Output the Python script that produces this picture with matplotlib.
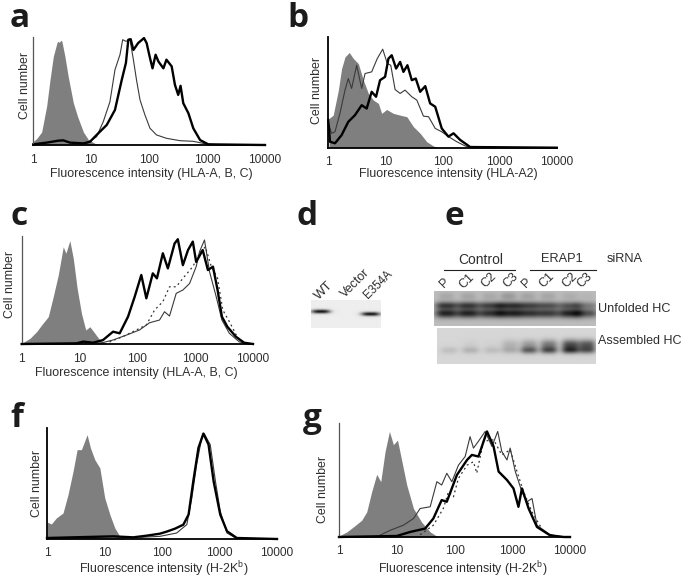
import numpy as np
import matplotlib
matplotlib.use("Agg")
import matplotlib.pyplot as plt
from matplotlib.ticker import NullLocator

plt.rcParams['font.family'] = ['Liberation Sans', 'DejaVu Sans']
plt.rcParams['mathtext.default'] = 'regular'

W, H = 685, 579
TICKS = [1, 10, 100, 1000, 10000]
TICK_LABELS = ['1', '10', '100', '1000', '10000']

# ---- panel a
a_fill_x = [1, 1.16, 1.41, 1.72, 1.96, 2.24, 2.6, 2.72, 2.85, 3.0, 3.15, 3.55, 4.06, 4.96, 5.9, 7.4, 9, 11.7, 14]
a_fill_y = [3, 6, 12, 36, 60, 82, 95, 96, 95, 97, 96, 82, 63, 39, 26, 12, 5, 1.5, 0.5]
a_thin_x = [8.4, 12.5, 16.3, 21.2, 25.9, 31.6, 35.2, 40, 47, 53.8, 61, 70, 85, 104, 135, 200, 342, 580, 986, 1460]
a_thin_y = [1.5, 7.7, 21.7, 40, 69.7, 83.6, 97.5, 96, 97.5, 79, 60, 41.8, 27.9, 15.5, 9.3, 6.2, 4, 3.4, 0.9, 0.3]
a_thick_x = [1.01, 1.72, 2.73, 3.33, 4.34, 7.4, 9.6, 12.5, 18.7, 25.9, 33.8, 40, 44, 48.3, 53.8, 65, 82, 91, 104, 115, 130, 145, 177, 200, 246, 280, 319, 350, 390, 478, 580, 760, 1050, 10000]
a_thick_y = [0.6, 2.2, 4, 4.3, 2.2, 1.5, 3, 9.3, 18.6, 32.5, 60, 76, 97.5, 98, 88, 94.4, 99, 94.4, 80.5, 71, 83.6, 77.4, 71, 79, 72.8, 55.7, 46.4, 54.8, 38.7, 29.4, 15.5, 4.6, 0.6, 0]

# ---- panel b
b_fill_x = [1.03, 1.22, 1.5, 1.71, 1.96, 2.33, 2.75, 3.36, 4.11, 5.03, 6.16, 7.54, 8.6, 10.5, 13.8, 18.1, 23.7, 30.9, 40.6, 53, 69.6, 91]
b_fill_y = [26.4, 29.4, 52, 71.5, 82, 86, 80.5, 76, 61, 49, 43, 40, 31, 34.5, 31, 29.4, 28, 19, 13, 5.4, 1.5, 0]
b_thin_x = [1, 1.14, 1.31, 1.6, 1.96, 2.24, 2.56, 3.14, 3.84, 4.4, 5.75, 7.2, 8.98, 10.8, 12.4, 14.8, 18.1, 22.1, 29, 35.5, 46.4, 56.9, 74.6, 97, 127, 178, 251, 328, 10000]
b_thin_y = [22, 13, 14.4, 31, 52, 62.5, 53.5, 74.5, 53.5, 67, 68.5, 80.5, 89, 76, 74.5, 52.5, 49, 52, 46, 43, 28.5, 28, 17.4, 14.4, 10, 5.4, 1.5, 0, 0]
b_thick_x = [1, 1.07, 1.31, 1.71, 2.24, 2.93, 3.84, 4.7, 5.75, 6.86, 8.06, 9.87, 11.3, 12.9, 15.4, 18.1, 20.7, 24.3, 29, 34, 40.6, 49.9, 60.7, 74.6, 97, 127, 156, 204, 306, 10000]
b_thick_y = [25, 5.4, 4, 11.4, 23.4, 29.4, 38.4, 35.4, 50.5, 46, 61, 64, 80.5, 83.5, 71.5, 77.5, 68.5, 74.5, 61, 62.5, 50.5, 55.6, 40, 37, 17.4, 10, 13, 7, 0.6, 0]

# ---- panel c
c_fill_x = [1, 1.39, 1.81, 2.21, 2.88, 3.51, 4.29, 5.23, 5.81, 6.8, 7.8, 9.1, 10.8, 12.8, 15.1, 18.4, 22.4, 29]
c_fill_y = [0.6, 5.2, 11.4, 17.6, 25.3, 43.8, 63.9, 90, 84, 95.7, 79.3, 51.5, 28.4, 13, 16, 9.9, 3.7, 0.6]
c_thick_x = [1, 8.9, 11.6, 17.2, 25.5, 38, 49.5, 69, 90, 117, 143, 185, 218, 276, 337, 440, 501, 613, 752, 910, 1040, 1350, 1660, 2030, 2440, 2900, 3600, 5050, 7000, 10000]
c_thick_y = [0, 0.6, 2.2, 1.2, 3.7, 11.4, 9.9, 25.3, 43.8, 63.9, 42.3, 65.4, 60.8, 84, 70, 93, 97, 73, 87, 94.8, 76, 87, 68.5, 71.6, 50, 25.3, 16, 6.8, 1.2, 0]
c_thin_x = [22.4, 38, 65, 109, 163, 242, 295, 360, 470, 613, 800, 1040, 1190, 1450, 1770, 2310, 2900, 3900, 5800, 8800]
c_thin_y = [0.6, 3.7, 8.3, 13, 19.7, 22.2, 29.9, 25.9, 46.9, 50, 56, 71.6, 85.5, 96.3, 67, 43.8, 22.2, 9.9, 1.9, 0]
c_dot_x = [33, 56, 96, 143, 199, 276, 360, 470, 650, 910, 1190, 1500, 1870, 2440, 3000, 3900, 5500, 7600]
c_dot_y = [1.9, 6.8, 13, 17.6, 31.5, 39.2, 53, 53, 62.4, 71.6, 84, 90, 73, 60.8, 31.5, 20.7, 5.2, 0.6]

# ---- panel f
f_fill_x = [1, 1.19, 1.45, 1.9, 2.32, 2.84, 3.34, 3.97, 4.98, 5.7, 6.78, 8.3, 10.1, 12.4, 15.1, 18.5, 22.6]
f_fill_y = [15.3, 13.5, 18.9, 23.4, 40, 61, 80.5, 80.5, 94, 82, 71.5, 64, 37, 22, 10, 2.4, 0]
f_thick_x = [1, 2.84, 14.2, 31.6, 54, 92, 120, 168, 235, 290, 350, 430, 525, 645, 790, 1030, 1350, 2000, 10000]
f_thick_y = [0.9, 1.5, 2.4, 1.5, 3, 4.8, 6.6, 9.3, 12.9, 22, 52, 82, 95, 85, 52, 22, 7, 0.9, 0]
f_thin_x = [41, 92, 180, 270, 330, 400, 490, 540, 690, 850, 1030, 1350, 2000]
f_thin_y = [1.5, 2.4, 5.4, 13, 37, 67, 91, 95, 85, 52, 25, 5.4, 0.3]

# ---- panel g
g_fill_x = [1, 1.36, 1.77, 2.47, 3.02, 3.68, 4.5, 5.28, 6.28, 7.47, 8.75, 10.3, 12.2, 14.9, 19.5, 27, 38, 52]
g_fill_y = [0.9, 4.4, 8.8, 14.7, 22, 39.7, 55, 48.5, 75, 92.6, 81, 85, 67, 45.6, 25, 13, 4.4, 0]
g_thin_x = [5.1, 7.7, 13, 19.5, 25.4, 37.9, 49.5, 60, 73.5, 90, 117, 153, 186, 213, 260, 340, 445, 560, 660, 810, 920, 1130, 1470, 1800, 2200, 2680, 4500, 7800]
g_thin_y = [1.5, 5.9, 10.3, 16.2, 25, 26.5, 48.5, 45.6, 55.9, 48.5, 63, 70.6, 88, 78, 84, 92.6, 79.4, 92.6, 75, 67.6, 78, 57.4, 39.7, 30.9, 33.8, 10.3, 2, 0]
g_thick_x = [1, 10, 17, 31, 43, 60, 73.5, 110, 165, 200, 260, 365, 475, 580, 810, 1050, 1280, 1470, 1920, 2680, 4500, 7800, 10000]
g_thick_y = [0, 0.9, 4.4, 7.4, 16.2, 32.4, 30.9, 54.4, 67.6, 72, 70.6, 92.6, 79.4, 57.4, 50, 42.6, 26.5, 42.6, 25, 8.8, 1.5, 0, 0]
g_dot_x = [25.4, 43, 64, 78.7, 96, 117, 165, 213, 243, 318, 475, 660, 920, 1210, 1570, 2200, 3500, 6000]
g_dot_y = [2, 10.3, 25, 39.7, 35.3, 51.5, 63, 66, 56, 84, 85.3, 72, 76.5, 57.4, 39.7, 22, 4.4, 0]

# ---- gels: per-lane band strength
e_lanes = ['P', 'C1', 'C2', 'C3', 'P', 'C1', 'C2', 'C3']
e_lane_pos = [0.075, 0.21, 0.345, 0.46, 0.58, 0.705, 0.84, 0.945]
e_top_upper = [0.50, 0.50, 0.46, 0.52, 0.46, 0.40, 0.38, 0.24]
e_top_lower = [0.60, 0.60, 0.54, 0.60, 0.54, 0.50, 0.60, 0.42]
e_top_smear = [0.08, 0.09, 0.08, 0.14, 0.10, 0.09, 0.06, 0.03]
e_bot_upper = [0.00, 0.03, 0.02, 0.13, 0.22, 0.35, 0.52, 0.48]
e_bot_lower = [0.09, 0.13, 0.09, 0.14, 0.42, 0.46, 0.52, 0.40]
d_lane_pos = [0.14, 0.855]
d_lane_y = [0.41, 0.50]
d_bands = [0.85, 0.85]


def px_rect(x0, x1, ytop, ybot):
    return [x0 / W, 1 - ybot / H, (x1 - x0) / W, (ybot - ytop) / H]


def fx(x):
    return x / W


def fy(y):
    return 1 - y / H


fig = plt.figure(figsize=(W / 100, H / 100), dpi=100, facecolor='white')
TXT = '#2e2e2e'


def hist_panel(x0, x1, ytop, ybot, tick_y, lab_y, lab_x, xlabel, yl_x, yl_y,
               fill, thin, thick, dot=None, left_col='#555555', left_lw=0.9,
               fill_col='#7f7f7f'):
    ax = fig.add_axes(px_rect(x0, x1, ytop, ybot))
    ax.set_xscale('log')
    ax.set_xlim(1, 10000)
    ax.set_ylim(0, 100)
    ax.patch.set_alpha(0)
    ax.fill_between(fill[0], fill[1], 0, color=fill_col, lw=0, clip_on=False)
    if dot is not None:
        ax.plot(dot[0], dot[1], color='#333333', lw=0.9, ls=(0, (1.5, 2.5)), clip_on=False)
    ax.plot(thin[0], thin[1], color='#3a3a3a', lw=0.8, clip_on=False, solid_joinstyle='round')
    ax.plot(thick[0], thick[1], color='#000000', lw=1.7, clip_on=False, solid_joinstyle='round')
    for s in ['top', 'right']:
        ax.spines[s].set_visible(False)
    ax.spines['left'].set_color(left_col)
    ax.spines['left'].set_linewidth(left_lw)
    ax.spines['bottom'].set_color('#000000')
    ax.spines['bottom'].set_linewidth(1.3)
    ax.set_yticks([])
    ax.set_xticks(TICKS)
    ax.set_xticklabels(TICK_LABELS)
    ax.xaxis.set_minor_locator(NullLocator())
    pad = (tick_y - ybot - 4.5) * 0.72
    ax.tick_params(axis='x', length=0, pad=pad, labelsize=8.6, labelcolor=TXT)
    ax.set_xlabel(xlabel, fontsize=8.9, color=TXT, va='center', ha='center')
    ax.xaxis.set_label_coords(fx(lab_x), fy(lab_y), transform=fig.transFigure)
    ax.set_ylabel('Cell number', fontsize=8.9, color=TXT, va='center', ha='center')
    ax.yaxis.set_label_coords(fx(yl_x), fy(yl_y), transform=fig.transFigure)
    return ax


hist_panel(33, 265, 37, 145, 158, 174, 151, 'Fluorescence intensity (HLA-A, B, C)', 25, 85,
           (a_fill_x, a_fill_y), (a_thin_x, a_thin_y), (a_thick_x, a_thick_y))
hist_panel(328.3, 556.7, 37, 147.7, 160.5, 173.5, 448, 'Fluorescence intensity (HLA-A2)', 317, 90,
           (b_fill_x, b_fill_y), (b_thin_x, b_thin_y), (b_thick_x, b_thick_y),
           left_col='#000000', left_lw=1.3)
hist_panel(21.7, 253, 236, 344, 358, 373, 136, 'Fluorescence intensity (HLA-A, B, C)', 10, 284,
           (c_fill_x, c_fill_y), (c_thin_x, c_thin_y), (c_thick_x, c_thick_y),
           dot=(c_dot_x, c_dot_y))
hist_panel(47, 277, 428, 539, 552, 569.5, 164, r'Fluorescence intensity (H-2K$^{b}$)', 37, 483,
           (f_fill_x, f_fill_y), (f_thin_x, f_thin_y), (f_thick_x, f_thick_y),
           left_col='#000000', left_lw=1.3)
hist_panel(339, 570, 423, 537, 550, 569.5, 463, r'Fluorescence intensity (H-2K$^{b}$)', 323, 489,
           (g_fill_x, g_fill_y), (g_thin_x, g_thin_y), (g_thick_x, g_thick_y),
           dot=(g_dot_x, g_dot_y))


def gel(x0, x1, ytop, ybot, bg, bands):
    """bands: list of (x centre, y centre, strength, half width, y sigma)."""
    ax = fig.add_axes(px_rect(x0, x1, ytop, ybot))
    yy, xx = np.mgrid[0:1:140j, 0:1:260j]
    img = np.full(xx.shape, float(bg))
    for xc, yc, s, wx, sy in bands:
        img -= s * np.exp(-np.abs((xx - xc) / wx) ** 3) * np.exp(-0.5 * ((yy - yc) / sy) ** 2)
    img = np.clip(img, 0, 1)
    ax.imshow(img, cmap='gray', vmin=0, vmax=1, aspect='auto', extent=(0, 1, 1, 0),
              interpolation='bilinear')
    ax.axis('off')
    return ax


# panel d gel
gel(310.7, 380, 300, 328, 0.93,
    [(p, y, s, 0.135, 0.05) for p, y, s in zip(d_lane_pos, d_lane_y, d_bands)])

# panel e gels
top_bands = []
for p, u, l, sm in zip(e_lane_pos, e_top_upper, e_top_lower, e_top_smear):
    top_bands += [(p, 0.43, u, 0.07, 0.075), (p, 0.65, l, 0.07, 0.09), (p, 0.17, sm, 0.05, 0.08)]
gel(434, 596, 290.7, 326, 0.74, top_bands)
bot_bands = []
for p, u, l in zip(e_lane_pos, e_bot_upper, e_bot_lower):
    bot_bands += [(p, 0.46, u, 0.055, 0.10), (p, 0.62, l, 0.055, 0.07)]
gel(436.7, 595, 328, 364, 0.84, bot_bands)

# gel annotations
lane_label_x = [445, 467, 489, 511, 527, 547, 570, 585]
lane_label_y = [283, 281, 280, 280, 283, 280, 280, 280]
for t, x, y in zip(e_lanes, lane_label_x, lane_label_y):
    fig.text(fx(x), fy(y), t, rotation=45, ha='center', va='center', fontsize=9, color=TXT)

fig.text(fx(481), fy(260), 'Control', ha='center', va='center', fontsize=10, color=TXT)
fig.text(fx(562), fy(259), 'ERAP1', ha='center', va='center', fontsize=9.2, color=TXT)
fig.text(fx(625), fy(259.5), 'siRNA', ha='center', va='center', fontsize=9.2, color=TXT)
fig.add_artist(plt.Line2D([fx(444), fx(515)], [fy(269.5)] * 2, color='#222222', lw=0.8))
fig.add_artist(plt.Line2D([fx(530), fx(596)], [fy(269.5)] * 2, color='#222222', lw=0.8))
fig.text(fx(598), fy(309), 'Unfolded HC', ha='left', va='center', fontsize=9.1, color=TXT)
fig.text(fx(598), fy(340.5), 'Assembled HC', ha='left', va='center', fontsize=9, color=TXT)

fig.text(fx(324), fy(291), 'WT', rotation=45, ha='center', va='center', fontsize=9.5, color=TXT)
fig.text(fx(355.5), fy(283), 'Vector', rotation=45, ha='center', va='center', fontsize=9, color=TXT)
fig.text(fx(378), fy(285), 'E354A', rotation=45, ha='center', va='center', fontsize=8.4, color=TXT)

# panel letters
letters = [('a', 10, 27), ('b', 287, 27), ('c', 10, 225), ('d', 297, 225),
           ('e', 445, 225), ('f', 10, 427), ('g', 303, 427)]
for t, x, y in letters:
    fig.text(fx(x), fy(y), t, ha='left', va='baseline', fontsize=24, fontweight='bold',
             family=['Open Sans', 'DejaVu Sans'], color='#1c1c1c')

fig.savefig('out.png', dpi=100)
